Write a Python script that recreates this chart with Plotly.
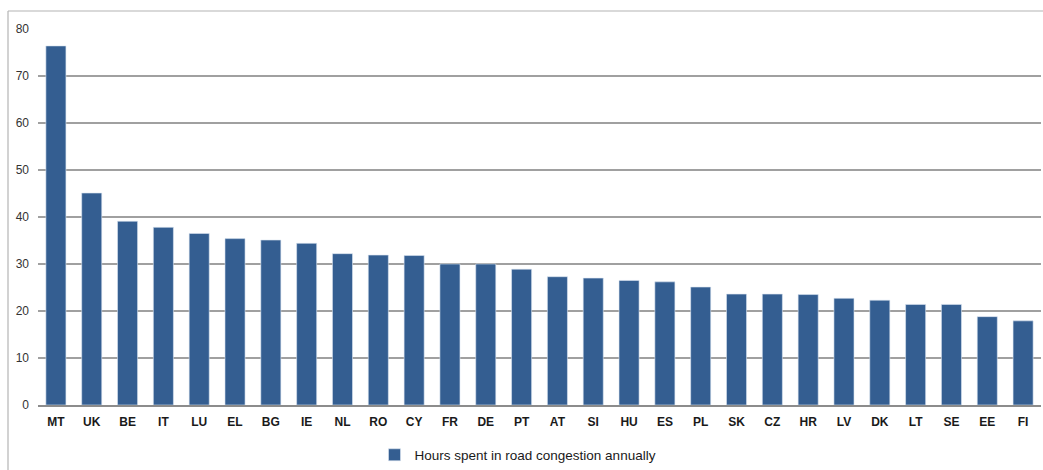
import plotly.graph_objects as go

countries = ["MT", "UK", "BE", "IT", "LU", "EL", "BG", "IE", "NL", "RO",
             "CY", "FR", "DE", "PT", "AT", "SI", "HU", "ES", "PL", "SK",
             "CZ", "HR", "LV", "DK", "LT", "SE", "EE", "FI"]
hours = [76.4, 45.1, 39.1, 37.8, 36.5, 35.4, 35.1, 34.4, 32.2, 31.9,
         31.8, 30.0, 30.0, 28.9, 27.3, 27.0, 26.5, 26.2, 25.1, 23.6,
         23.6, 23.5, 22.7, 22.3, 21.4, 21.4, 18.8, 17.9]
series_name = "Hours spent in road congestion annually"
y_ticks = [0, 10, 20, 30, 40, 50, 60, 70, 80]

W, H = 1043, 470
L, R, T, B = 38, 2, 29, 65
pw, ph = W - L - R, H - T - B

def px_x(x):
    return (x - L) / pw

def px_y(y):
    return (H - B - y) / ph

fig = go.Figure()
fig.add_trace(go.Bar(
    x=countries, y=hours, name=series_name,
    marker=dict(color="#345e91", line=dict(color="#dce6f2", width=0.6)),
    showlegend=True,
))

frame = dict(color="#b4b4b4", width=1.2)
fig.add_shape(type="line", xref="paper", yref="paper",
              x0=px_x(8), x1=px_x(W), y0=px_y(11), y1=px_y(11), line=frame)
fig.add_shape(type="line", xref="paper", yref="paper",
              x0=px_x(8), x1=px_x(8), y0=px_y(11), y1=px_y(H), line=frame)

fig.update_layout(
    width=W, height=H,
    margin=dict(l=L, r=R, t=T, b=B, autoexpand=False),
    paper_bgcolor="white", plot_bgcolor="white",
    font=dict(family="Liberation Sans, Arial, sans-serif", size=11, color="#222"),
    bargap=0.44,
    showlegend=True,
    legend=dict(orientation="h",
                xref="container", x=518 / W, xanchor="center",
                yref="container", y=(H - 455) / H, yanchor="middle",
                font=dict(size=13.5, color="#1a1a1a"),
                itemwidth=30, bgcolor="rgba(0,0,0,0)"),
    xaxis=dict(showgrid=False, showline=True, linecolor="#8c8c8c", linewidth=1.5,
               ticks="", tickfont=dict(size=12, color="#1a1a1a", weight="bold"),
               ticklabelstandoff=5, automargin=False),
    yaxis=dict(range=[0, 80], tickvals=y_ticks, showgrid=True,
               gridcolor="#a0a0a0", gridwidth=1.5, zeroline=False,
               ticks="", tickfont=dict(size=12, color="#333"),
               ticklabelstandoff=8, automargin=False),
)

fig.write_html("out.html")
